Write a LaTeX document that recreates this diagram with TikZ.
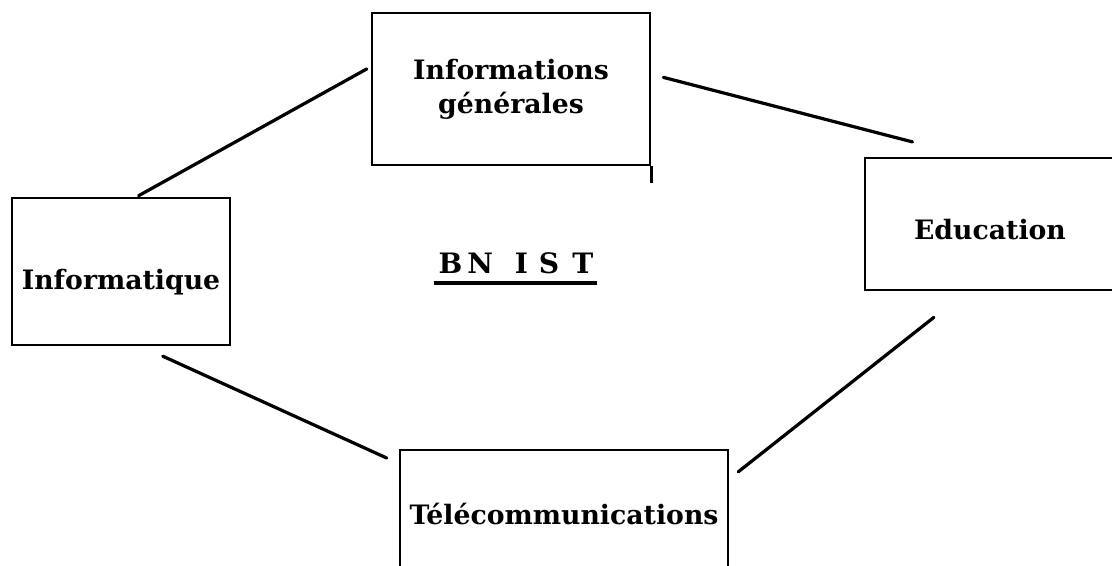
\documentclass[tikz,border=0pt]{standalone}
\usepackage{fontspec}
\setmainfont{DejaVu Serif}
\usetikzlibrary{positioning}

\begin{document}
\begin{tikzpicture}[
    x=0.25mm, y=-0.25mm,
    box/.style={draw, line width=1.9pt, inner sep=0pt, align=center, font=\fontsize{19}{24}\selectfont\bfseries},
    link/.style={line width=2.3pt, line cap=round}
]
\useasboundingbox (0,0) rectangle (1112,566);
\clip (0,0) rectangle (1112,566);

\node[box, minimum width=69.5mm, minimum height=38mm] (infgen) at (511,89) {Informations\\générales};
\node[box, minimum width=54.5mm, minimum height=36.75mm, text height=29pt, text depth=4pt] (infq) at (121,271.5) {Informatique};
\node[box, minimum width=62.5mm, minimum height=33mm, text height=25.6pt, text depth=4pt] (edu) at (990,224) {Education};
\node[box, minimum width=82mm, minimum height=32mm] (tel) at (564,514) {Télécommunications};

\node[font=\fontsize{20}{24}\selectfont\bfseries, inner sep=0pt] (bnist) at (516,263) {B\hspace{3.6pt}N\hspace{15.4pt}I\hspace{7.7pt}S\hspace{9.5pt}T};
\draw[line width=2.8pt] ([xshift=-1mm,yshift=-2.25mm]bnist.south west) -- ([xshift=0.75mm,yshift=-2.25mm]bnist.south east);

\draw[link, shorten <=0.5mm, shorten >=1.1mm] (infq.78.5) -- (infgen.171.4);
\draw[link, shorten <=3.1mm, shorten >=14.7mm] (infgen.6.2) -- (edu.107.6);
\draw[link, shorten <=10.5mm, shorten >=2.85mm] (edu.251.6) -- (tel.12.4);
\draw[link, shorten <=5.95mm, shorten >=3.3mm] (infq.285.2) -- (tel.163.2);
\draw[line width=1.9pt] (infgen.south east) -- ++(0,17);
\end{tikzpicture}
\end{document}
